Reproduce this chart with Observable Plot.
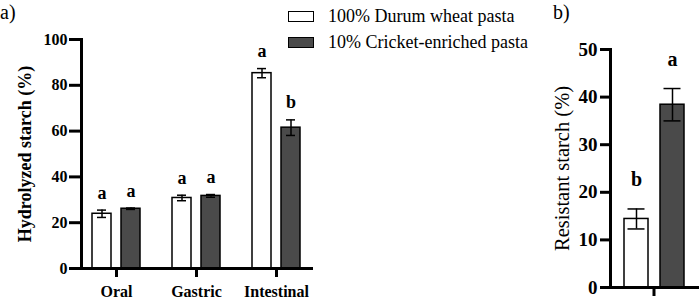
<!DOCTYPE html>
<html><head><meta charset="utf-8">
<script src="https://cdn.jsdelivr.net/npm/d3@7"></script>
<script src="https://cdn.jsdelivr.net/npm/@observablehq/plot@0.6"></script>
<style>
body{margin:0;background:#fff;}
#root{position:relative;width:700px;height:299px;overflow:hidden;font-family:"Liberation Serif",serif;color:#000;}
#root svg{position:absolute;top:0;}
.panel{position:absolute;font-size:20px;top:1px;}
#legend{position:absolute;left:288px;top:3px;font-size:18px;}
#legend .row{display:flex;align-items:center;height:26px;}
#legend .sw{width:24px;height:9px;border:1.3px solid #000;margin-right:14px;}
svg.pa g[aria-label="y-axis label"]{font-size:18px;font-weight:bold;}
svg.pb g[aria-label="y-axis label"]{font-size:20.5px;font-weight:normal;}
</style></head><body><div id="root"></div>
<script>
const stages = ["Oral", "Gastric", "Intestinal"];
const series = ["100% Durum wheat pasta", "10% Cricket-enriched pasta"];
const durumMean = [23.9, 30.8, 85.3];
const durumSd = [1.6, 1.2, 2.0];
const durumLetters = ["a", "a", "a"];
const cricketMean = [26.1, 31.7, 61.5];
const cricketSd = [0.3, 0.6, 3.4];
const cricketLetters = ["a", "a", "b"];
const resistantMean = [14.4, 38.4];
const resistantSd = [2.1, 3.4];
const resistantLetters = ["b", "a"];
const hydroTicks = [0, 20, 40, 60, 80, 100];
const resistantTicks = [0, 10, 20, 30, 40, 50];
const fills = ["#ffffff", "#4a4a4a"];

const hydro = stages.flatMap((s, i) => [
  {stage: s, series: series[0], mean: durumMean[i], sd: durumSd[i], letter: durumLetters[i]},
  {stage: s, series: series[1], mean: cricketMean[i], sd: cricketSd[i], letter: cricketLetters[i]}
]);
const resistant = series.map((s, i) => ({stage: "RS", series: s, mean: resistantMean[i], sd: resistantSd[i], letter: resistantLetters[i]}));

const font = {fontFamily: "'Liberation Serif', serif", fontSize: "16px", fontWeight: "bold", color: "#000", background: "transparent", overflow: "visible"};

function panel(data, opts) {
  return Plot.plot({
    className: opts.cls,
    width: opts.width, height: 299,
    marginLeft: opts.ml, marginRight: opts.mr, marginTop: opts.mt, marginBottom: opts.mb,
    style: font,
    fx: {domain: opts.fxDomain, paddingInner: opts.fxPad, paddingOuter: 0, label: null, axis: null},
    x: {domain: series, paddingInner: 1 / 3, paddingOuter: opts.xOuter, axis: null},
    y: {domain: opts.yDomain, label: null, axis: null},
    color: {domain: series, range: fills},
    marks: [
      Plot.barY(data, {fx: "stage", x: "series", y: "mean", fill: "series", stroke: "#000", strokeWidth: 1.5}),
      Plot.ruleX(data, {fx: "stage", x: "series", y1: d => d.mean - d.sd, y2: d => d.mean + d.sd, stroke: "#000", strokeWidth: 1.5}),
      Plot.tickY(data, {fx: "stage", x: "series", y: d => d.mean + d.sd, insetLeft: opts.cap, insetRight: opts.cap, stroke: "#000", strokeWidth: 1.5}),
      Plot.tickY(data, {fx: "stage", x: "series", y: d => d.mean - d.sd, insetLeft: opts.cap, insetRight: opts.cap, stroke: "#000", strokeWidth: 1.5}),
      Plot.text(data, {fx: "stage", x: "series", y: d => d.mean + d.sd, text: "letter", lineAnchor: "bottom", dy: opts.letterDy, fontSize: opts.letterSize, fontWeight: "bold"}),
      Plot.axisY({ticks: opts.ticks, tickSize: opts.tickSize, tickPadding: opts.tickPad, strokeWidth: 3, label: opts.label, labelArrow: "none", labelAnchor: "center", labelOffset: opts.labelOffset, fontSize: opts.tickFont, fontWeight: "bold"}),
      Plot.axisFx({anchor: "bottom", tickSize: 9, tickPadding: 8, strokeWidth: 3, label: null, tickFormat: opts.fxFormat, fontSize: 16, fontWeight: "bold"}),
      Plot.frame({anchor: "bottom", facet: "super", stroke: "#000", strokeWidth: 3}),
      Plot.frame({anchor: "left", facet: "super", stroke: "#000", strokeWidth: 3})
    ]
  });
}

const root = document.getElementById("root");
const a = panel(hydro, {cls: "pa", width: 330, ml: 80, mr: 18, mt: 39, mb: 31, fxDomain: stages, fxPad: 0.125, xOuter: 0.343,
  yDomain: [0, 100], ticks: hydroTicks, tickSize: 12, tickPad: 2, tickFont: 16, label: "Hydrolyzed starch (%)", labelOffset: 63,
  cap: 5, letterDy: -11.5, letterSize: 18, fxFormat: d => d});
a.style.left = "0px";
root.appendChild(a);
const b = panel(resistant, {cls: "pb", width: 160, ml: 70, mr: 3, mt: 49, mb: 12, fxDomain: ["RS"], fxPad: 0, xOuter: 0.37,
  yDomain: [0, 50], ticks: resistantTicks, tickSize: 10, tickPad: 3, tickFont: 19, label: "Resistant starch (%)", labelOffset: 56,
  cap: 3.5, letterDy: -23, letterSize: 20, fxFormat: () => ""});
b.style.left = "540px";
root.appendChild(b);

const pa = document.createElement("div"); pa.className = "panel"; pa.style.left = "0px"; pa.textContent = "a)"; root.appendChild(pa);
const pb = document.createElement("div"); pb.className = "panel"; pb.style.left = "553px"; pb.textContent = "b)"; root.appendChild(pb);

const legend = document.createElement("div"); legend.id = "legend";
series.forEach((s, i) => {
  const row = document.createElement("div"); row.className = "row";
  const sw = document.createElement("div"); sw.className = "sw"; sw.style.background = fills[i];
  const t = document.createElement("span"); t.textContent = s;
  row.appendChild(sw); row.appendChild(t); legend.appendChild(row);
});
root.appendChild(legend);
</script></body></html>
